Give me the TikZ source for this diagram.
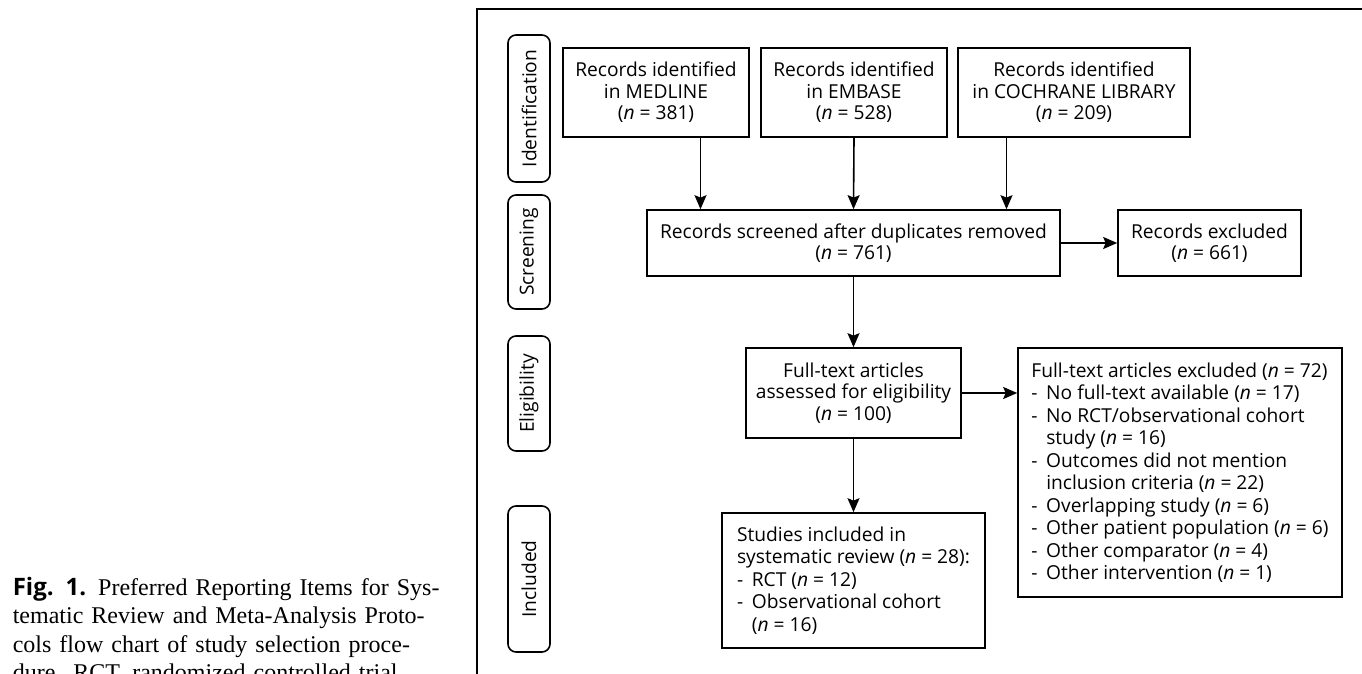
\documentclass[tikz,border=0pt]{standalone}
\usepackage{fontspec}
\newfontfamily\flowfont{Open Sans}
\newfontfamily\capfont{Liberation Serif}
\usetikzlibrary{arrows.meta}
\newcommand\nn{\textit{n}}
\newcommand\itemdash{-\hspace{0.45em}}
\newcommand\itemhang{\phantom{-}\hspace{0.45em}}
\tikzset{
  stagebox/.style={draw, rectangle, align=center, inner sep=1bp,
    font=\flowfont\fontsize{9.6bp}{10.75bp}\selectfont},
  listbox/.style={stagebox, align=left,
    font=\flowfont\fontsize{9.6bp}{11.25bp}\selectfont},
  phasepill/.style={draw, rectangle, rounded corners=4bp, rotate=90,
    minimum height=21bp, inner sep=0bp,
    font=\flowfont\fontsize{9.6bp}{10.75bp}\selectfont},
}
\begin{document}
\begin{tikzpicture}[>={Stealth[length=7bp,width=6bp,inset=1.2bp]},line join=miter,]
  \pgfsetlinewidth{0.8bp}
  \useasboundingbox (0bp,0bp) rectangle (681bp,337bp);
  \clip (0bp,0bp) rectangle (681bp,337bp);
%%
  % Caption
  \node (caption) [anchor=base west, inner sep=0bp, text width=225bp, align=left,
    font=\capfont\fontsize{12bp}{14.25bp}\selectfont] at (6bp,39.5bp)
    {\makebox[\linewidth][s]{{\flowfont\bfseries Fig. 1.} Preferred Reporting Items for Sys-}\\
     \makebox[\linewidth][s]{tematic Review and Meta-Analysis Proto-}\\
     \makebox[\linewidth][s]{cols flow chart of study selection proce-}\\
     dure. RCT, randomized controlled trial.};
  % Frame
  \draw (681bp,332.5bp) -- (238.5bp,332.5bp) -- (238.5bp,0bp);
  % Node: phase pills
  \node (pident) [phasepill, minimum width=73.5bp] at (264.5bp,282.75bp) {Identification};
  \node (pscreen) [phasepill, minimum width=57bp] at (264.5bp,211bp) {Screening};
  \node (pelig) [phasepill, minimum width=57.5bp] at (264.5bp,140.25bp) {Eligibility};
  \node (pincl) [phasepill, minimum width=73bp] at (264.5bp,47.5bp) {Included};
  % Node: sources
  \node (medline) [stagebox, minimum width=93bp, minimum height=44.5bp] at (328bp,290.75bp)
    {Records identified\\in MEDLINE\\(\nn{} = 381)};
  \node (embase) [stagebox, minimum width=93bp, minimum height=44.5bp] at (427bp,290.75bp)
    {Records identified\\in EMBASE\\(\nn{} = 528)};
  \node (cochrane) [stagebox, minimum width=116bp, minimum height=44.5bp] at (537bp,290.75bp)
    {Records identified\\in COCHRANE LIBRARY\\(\nn{} = 209)};
  % Node: screening
  \node (screened) [stagebox, minimum width=206.5bp, minimum height=33bp] at (426.75bp,215.5bp)
    {Records screened after duplicates removed\\(\nn{} = 761)};
  \node (recexcl) [stagebox, minimum width=91.5bp, minimum height=33bp] at (604.75bp,215.5bp)
    {Records excluded\\(\nn{} = 661)};
  % Node: eligibility
  \node (fulltext) [stagebox, minimum width=107.5bp, minimum height=45bp] at (426.75bp,140.5bp)
    {Full-text articles\\assessed for eligibility\\(\nn{} = 100)};
  \node (exclist) [listbox, minimum width=162bp, minimum height=124.5bp] at (590bp,100.75bp)
    {Full-text articles excluded (\nn{} = 72)\\
     \itemdash No full-text available (\nn{} = 17)\\
     \itemdash No RCT/observational cohort\\
     \itemhang study (\nn{} = 16)\\
     \itemdash Outcomes did not mention\\
     \itemhang inclusion criteria (\nn{} = 22)\\
     \itemdash Overlapping study (\nn{} = 6)\\
     \itemdash Other patient population (\nn{} = 6)\\
     \itemdash Other comparator (\nn{} = 4)\\
     \itemdash Other intervention (\nn{} = 1)};
  % Node: included
  \node (included) [listbox, minimum width=131.5bp, minimum height=67.5bp] at (426.75bp,46.75bp)
    {Studies included in\\
     systematic review (\nn{} = 28):\\
     \itemdash RCT (\nn{} = 12)\\
     \itemdash Observational cohort\\
     \itemhang (\nn{} = 16)};
  % Edge: sources -> screened
  \coordinate (inleft) at ([xshift=-76.5bp]screened.north);
  \coordinate (inright) at ([xshift=76.5bp]screened.north);
  \draw [->] (inleft |- medline.south) -- (inleft);
  \draw [->] (embase.south) -- (screened.north);
  \draw [->] (inright |- cochrane.south) -- (inright);
  % Edge: screened -> recexcl
  \draw [->] (screened.east) -- (recexcl.west);
  % Edge: screened -> fulltext
  \draw [->] (screened.south) -- (fulltext.north);
  % Edge: fulltext -> exclist
  \draw [->] (fulltext.east) -- (fulltext.east -| exclist.west);
  % Edge: fulltext -> included
  \draw [->] (fulltext.south) -- (included.north);
%
\end{tikzpicture}
\end{document}
